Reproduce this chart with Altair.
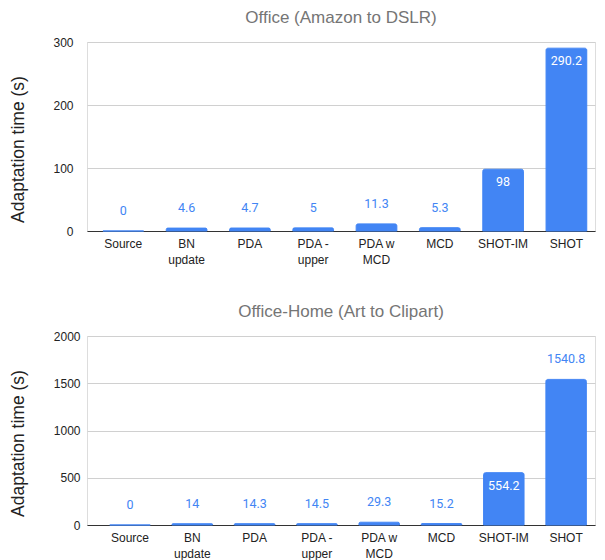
import altair as alt
import pandas as pd

categories = ["Source", "BN update", "PDA", "PDA - upper", "PDA w MCD", "MCD", "SHOT-IM", "SHOT"]
office_values = [0, 4.6, 4.7, 5, 11.3, 5.3, 98, 290.2]
office_home_values = [0, 14, 14.3, 14.5, 29.3, 15.2, 554.2, 1540.8]
office_label_inside = [False, False, False, False, False, False, True, True]
office_home_label_inside = [False, False, False, False, False, False, True, False]

BLUE = "#4285F4"
AX_FONT = "Liberation Sans"
LBL_FONT = "Roboto"

label_expr = ("lastindexof(datum.label, ' ') > 0 ? "
              "[substring(datum.label, 0, lastindexof(datum.label, ' ')), "
              "substring(datum.label, lastindexof(datum.label, ' ') + 1)] : datum.label")


def panel(title, values, inside, ymax, yvals, pin, pout, align, lpad):
    df = pd.DataFrame({"cat": categories, "value": values, "inside": inside})
    x = alt.X("cat:N", sort=categories,
              scale=alt.Scale(paddingInner=pin, paddingOuter=pout, align=align),
              axis=alt.Axis(title=None, labelAngle=0, labelFont=AX_FONT, labelFontSize=12,
                            labelColor="#222", ticks=False, domainColor="#333",
                            labelPadding=7, labelLineHeight=16, labelExpr=label_expr,
                            labelBaseline="top"))
    y = alt.Y("value:Q", scale=alt.Scale(domain=[0, ymax], nice=False),
              axis=alt.Axis(title="Adaptation time (s)", values=yvals, grid=True, format="d",
                            gridColor="#d0d0d0", domain=False, ticks=False,
                            labelFont=AX_FONT, labelFontSize=12, labelColor="#222",
                            labelPadding=lpad, titleFont=AX_FONT, titleFontSize=17.5,
                            titleFontWeight="normal", titleColor="#222",
                            titleX=-69, titleY=107, titleBaseline="middle", titleAngle=270))
    base = alt.Chart(df)
    bars = base.mark_bar(color=BLUE, stroke=BLUE, strokeWidth=1,
                         cornerRadiusTopLeft=2, cornerRadiusTopRight=2).encode(x=x, y=y)
    txt_out = base.transform_filter("!datum.inside").mark_text(
        font=LBL_FONT, fontSize=12.5, color=BLUE, baseline="middle", dy=-20
    ).encode(x=x, y=y, text=alt.Text("value:Q", format="~r"))
    txt_in = base.transform_filter("datum.inside").mark_text(
        font=LBL_FONT, fontSize=12.5, color="white", baseline="middle", dy=13
    ).encode(x=x, y=y, text=alt.Text("value:Q", format="~r"))
    return alt.layer(bars, txt_out, txt_in).properties(
        width=508, height=189,
        title=alt.TitleParams(title, font=AX_FONT, fontSize=17, fontWeight="normal",
                              color="#757575", anchor="middle", offset=9),
    )


top = panel("Office (Amazon to DSLR)", office_values, office_label_inside,
            300, [0, 100, 200, 300], 0.357, 0.191, 0.659, 14)
bottom = panel("Office-Home (Art to Clipart)", office_home_values, office_home_label_inside,
               2000, [0, 500, 1000, 1500, 2000], 0.35, 0.252, 0.7245, 7)

chart = alt.vconcat(top, bottom, spacing=36).properties(
    padding={"left": 0, "top": 0, "right": 0, "bottom": 0}
).configure_view(stroke=None).configure(background="white")

chart.save("out.html", embed_options={"renderer": "svg", "actions": False})
